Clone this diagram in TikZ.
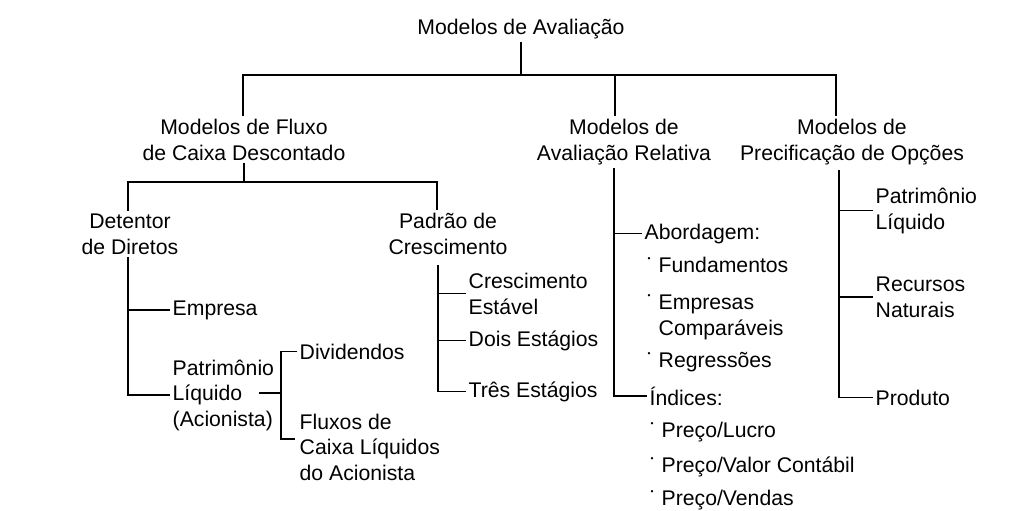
\documentclass[tikz,border=0pt]{standalone}
\usepackage{fontspec}
\setmainfont{Liberation Sans}
\newcommand\bul{\makebox[11pt][l]{\raisebox{0.5em}{\fontsize{8.5}{8.5}\selectfont •}}}
\begin{document}
\begin{tikzpicture}[x=1pt,y=-1pt, line width=1.4pt,
  every node/.style={font=\fontsize{21.2}{25.5}\selectfont, inner sep=2pt},
  ctr/.style={anchor=base, align=center},
  lft/.style={anchor=base west, align=left}]
\fill[white] (0,0) rectangle (1018,511);
\path[use as bounding box] (0,0) rectangle (1018,511);

% level 0 and 1 (base = baseline of last line)
\node[ctr] (root) at (521,35) {Modelos de Avaliação};
\node[ctr] (dcf) at (244,160) {Modelos de Fluxo\\de Caixa Descontado};
\node[ctr] (rel) at (624,160) {Modelos de\\Avaliação Relativa};
\node[ctr] (opc) at (852,160) {Modelos de\\Precificação de Opções};

% level 2
\node[ctr] (det) at (130,254) {Detentor\\de Diretos};
\node[ctr] (pad) at (448,254) {Padrão de\\Crescimento};

% detentor children
\node[lft] (emp) at (170,315) {Empresa};
\node[lft] (pl) at (170,426) {Patrimônio\\Líquido\\(Acionista)};
\node[lft] (div) at (297,359) {Dividendos};
\node[lft] (flx) at (297,480) {Fluxos de\\Caixa Líquidos\\do Acionista};

% padrao children
\node[lft] (ces) at (466,314) {Crescimento\\Estável};
\node[lft] (dois) at (466,346) {Dois Estágios};
\node[lft] (tre) at (466,397) {Três Estágios};

% relativa children
\node[lft] (abo) at (642,239) {Abordagem:};
\node[lft] (fun) at (645,272) {\bul Fundamentos};
\node[lft] (ecp) at (645,335) {\bul Empresas\\\hphantom{\bul}Comparáveis};
\node[lft] (reg) at (645,367) {\bul Regressões};
\node[lft] (ind) at (647,405) {Índices:};
\node[lft] (pll) at (648,437) {\bul Preço/Lucro};
\node[lft] (pvc) at (648,472) {\bul Preço/Valor Contábil};
\node[lft] (pve) at (648,505) {\bul Preço/Vendas};

% opcoes children
\node[lft] (plo) at (873,229) {Patrimônio\\Líquido};
\node[lft] (rec) at (873,317) {Recursos\\Naturais};
\node[lft] (prd) at (873,405) {Produto};

% connectors level 0 -> 1
\coordinate (b1) at (0,75);
\coordinate (d1) at (243,75);
\coordinate (d2) at (615,75);
\coordinate (d3) at (836,75);
\draw (root.south) -- (root.south |- b1);
\draw (d1 |- dcf.north) |- (d3) -- (d3 |- opc.north);
\draw (d2) -- (d2 |- rel.north);

% dcf -> level 2
\coordinate (b2) at (0,182);
\coordinate (e1) at (128,182);
\coordinate (e2) at (437,182);
\draw (dcf.south) -- (dcf.south |- b2);
\draw (e1 |- det.north) |- (e2) -- (e2 |- pad.north);

% detentor
\draw (e1 |- det.south) |- (pl.west);
\draw (e1 |- emp.west) -- (emp.west);

% patrimonio liquido (acionista)
\coordinate (j3) at (281,393);
\coordinate (lq) at (259,393);
\coordinate (fb) at (295,439);
\draw (lq) -- (j3);
\draw (div.west) -| (fb -| j3) -- (fb);

% padrao
\coordinate (p) at (438,265);
\draw (p) |- (tre.west);
\draw (p |- ces.west) -- (ces.west);
\draw (p |- dois.west) -- (dois.west);

% relativa
\coordinate (r) at (614,168);
\draw (r) |- (ind.west);
\draw (r |- abo.west) -- (abo.west);

% opcoes
\coordinate (o) at (839,170);
\draw (o) |- (prd.west);
\draw (o |- plo.west) -- (plo.west);
\draw (o |- rec.west) -- (rec.west);
\end{tikzpicture}
\end{document}
